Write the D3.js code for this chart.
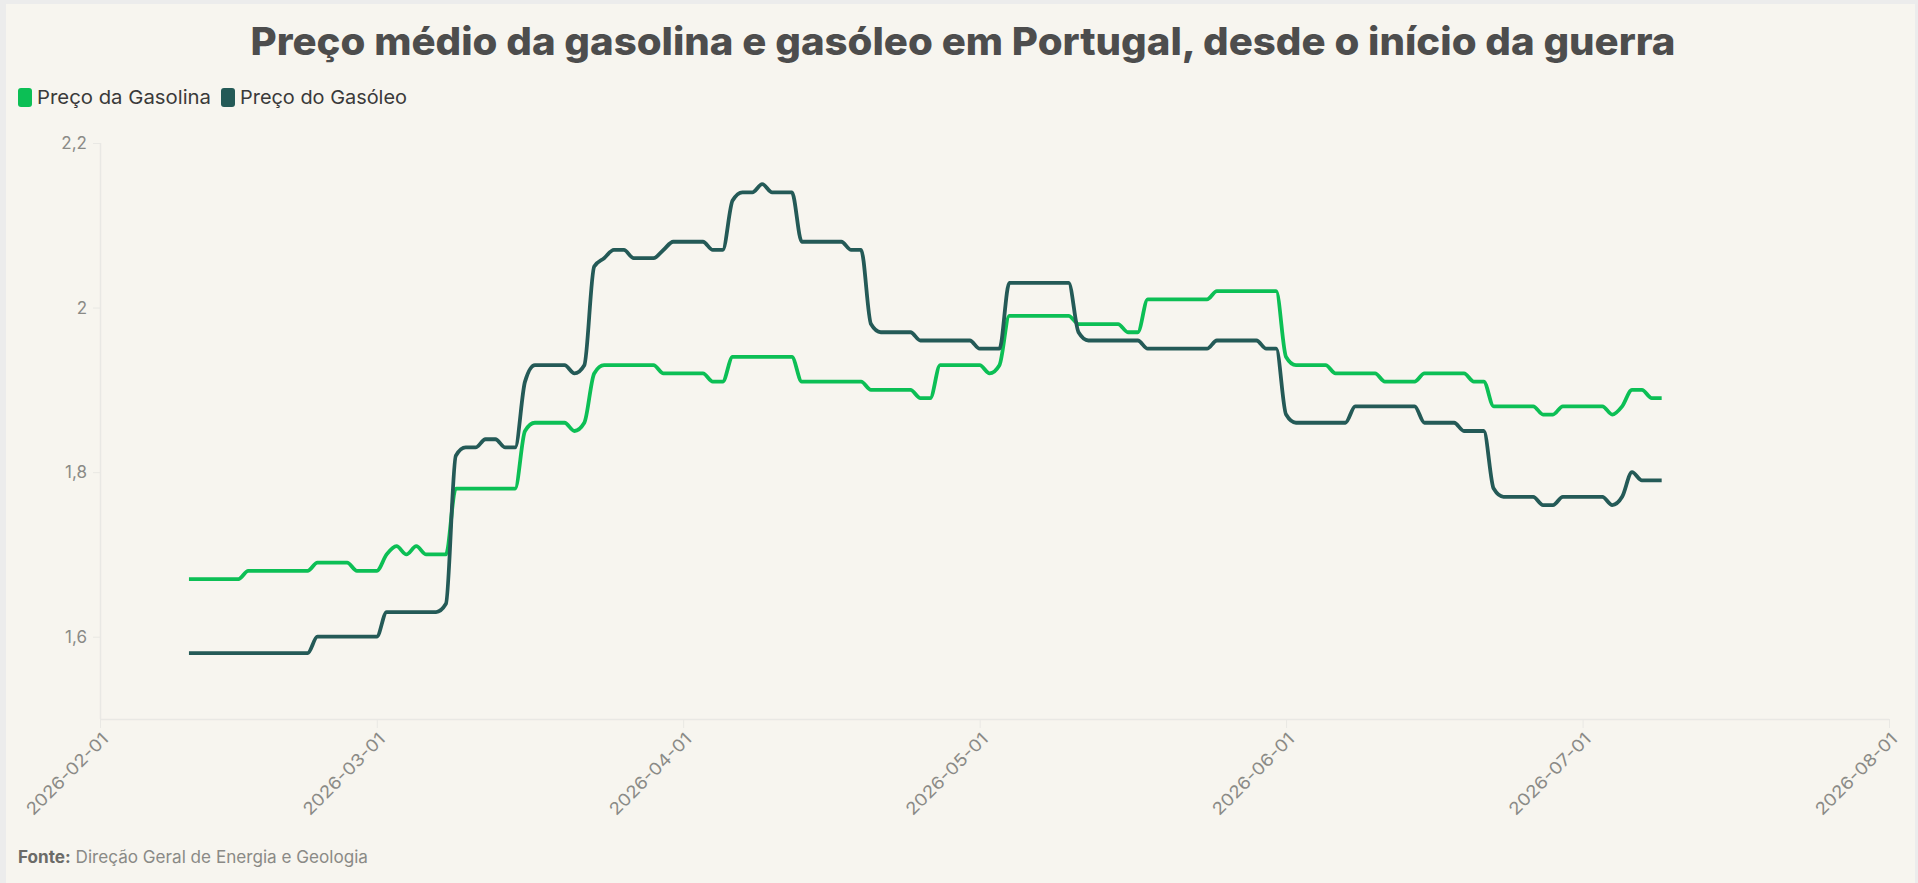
<!DOCTYPE html>
<html>
<head>
<meta charset="utf-8">
<script src="https://cdn.jsdelivr.net/npm/d3@7"></script>
<style>
  html, body { margin: 0; padding: 0; background: #ececec; }
  svg { display: block; }
  text { font-family: Inter, "Open Sans", sans-serif; }
</style>
</head>
<body>
<svg id="chart" width="1918" height="883"></svg>
<script>
// ---------- DATA ----------
const title = "Preço médio da gasolina e gasóleo em Portugal, desde o início da guerra";
const seriesNames = ["Preço da Gasolina", "Preço do Gasóleo"];
const seriesColors = ["#0cbf55", "#245a57"];
const firstDay = "2026-02-10";
const lastDay = "2026-07-09";
const xDomain = ["2026-02-01", "2026-08-01"];
const yDomain = [1.5, 2.2];
const yTicks = [1.6, 1.8, 2.0, 2.2];
const sourceLabel = "Fonte:";
const sourceText = " Direção Geral de Energia e Geologia";

// daily average price (EUR/l), from 2026-02-10 to 2026-07-09
const gasolina = [
  1.67,1.67,1.67,1.67,1.67,1.67,
  1.68,1.68,1.68,1.68,1.68,1.68,1.68,
  1.69,1.69,1.69,1.69,1.68,1.68,1.68,
  1.70,1.71,1.70,1.71,1.70,1.70,1.70,
  1.78,1.78,1.78,1.78,1.78,1.78,1.78,
  1.85,1.86,1.86,1.86,1.86,1.85,1.86,
  1.92,1.93,1.93,1.93,1.93,1.93,1.93,
  1.92,1.92,1.92,1.92,1.92,1.91,1.91,
  1.94,1.94,1.94,1.94,1.94,1.94,1.94,
  1.91,1.91,1.91,1.91,1.91,1.91,1.91,
  1.90,1.90,1.90,1.90,1.90,1.89,1.89,
  1.93,1.93,1.93,1.93,1.93,1.92,1.93,
  1.99,1.99,1.99,1.99,1.99,1.99,1.99,
  1.98,1.98,1.98,1.98,1.98,1.97,1.97,
  2.01,2.01,2.01,2.01,2.01,2.01,2.01,
  2.02,2.02,2.02,2.02,2.02,2.02,2.02,
  1.94,1.93,1.93,1.93,1.93,1.92,1.92,
  1.92,1.92,1.92,1.91,1.91,1.91,1.91,
  1.92,1.92,1.92,1.92,1.92,1.91,1.91,
  1.88,1.88,1.88,1.88,1.88,1.87,1.87,
  1.88,1.88,1.88,1.88,1.88,1.87,1.88,
  1.90,1.90,1.89,1.89
];
const gasoleo = [
  1.58,1.58,1.58,1.58,1.58,1.58,
  1.58,1.58,1.58,1.58,1.58,1.58,1.58,
  1.60,1.60,1.60,1.60,1.60,1.60,1.60,
  1.63,1.63,1.63,1.63,1.63,1.63,1.64,
  1.82,1.83,1.83,1.84,1.84,1.83,1.83,
  1.91,1.93,1.93,1.93,1.93,1.92,1.93,
  2.05,2.06,2.07,2.07,2.06,2.06,2.06,
  2.07,2.08,2.08,2.08,2.08,2.07,2.07,
  2.13,2.14,2.14,2.15,2.14,2.14,2.14,
  2.08,2.08,2.08,2.08,2.08,2.07,2.07,
  1.98,1.97,1.97,1.97,1.97,1.96,1.96,
  1.96,1.96,1.96,1.96,1.95,1.95,1.95,
  2.03,2.03,2.03,2.03,2.03,2.03,2.03,
  1.97,1.96,1.96,1.96,1.96,1.96,1.96,
  1.95,1.95,1.95,1.95,1.95,1.95,1.95,
  1.96,1.96,1.96,1.96,1.96,1.95,1.95,
  1.87,1.86,1.86,1.86,1.86,1.86,1.86,
  1.88,1.88,1.88,1.88,1.88,1.88,1.88,
  1.86,1.86,1.86,1.86,1.85,1.85,1.85,
  1.78,1.77,1.77,1.77,1.77,1.76,1.76,
  1.77,1.77,1.77,1.77,1.77,1.76,1.77,
  1.80,1.79,1.79,1.79
];

// ---------- CHART ----------
const W = 1918, H = 883;
const svg = d3.select("#chart");
const parse = d3.utcParse("%Y-%m-%d");
const dates = d3.utcDay.range(parse(firstDay), d3.utcDay.offset(parse(lastDay), 1));
const series = [gasolina, gasoleo].map((vals, k) => ({
  name: seriesNames[k], color: seriesColors[k],
  values: vals.map((v, i) => ({ date: dates[i], value: v }))
}));

const plot = { left: 100, right: 1889, top: 143, bottom: 719 };

// card background
svg.append("rect").attr("x", 6).attr("y", 4).attr("width", W - 9).attr("height", H - 4)
  .attr("fill", "#f7f5ef");

const x = d3.scaleUtc().domain(xDomain.map(parse)).range([plot.left, plot.right]);
const y = d3.scaleLinear().domain(yDomain).range([plot.bottom, plot.top]);

// title
svg.append("text")
  .attr("x", 963).attr("y", 55)
  .attr("text-anchor", "middle")
  .attr("font-size", 38).attr("font-weight", 800)
  .attr("fill", "#4d4d4d")
  .attr("textLength", 1425).attr("lengthAdjust", "spacingAndGlyphs")
  .text(title);

// legend
const legendPos = [{ x: 18, tx: 37, w: 174 }, { x: 221, tx: 240, w: 167 }];
series.forEach((s, k) => {
  svg.append("rect").attr("x", legendPos[k].x).attr("y", 88).attr("width", 14).attr("height", 19)
    .attr("rx", 3).attr("fill", s.color);
  svg.append("text").attr("x", legendPos[k].tx).attr("y", 104)
    .attr("font-size", 19).attr("fill", "#3a3a3a")
    .attr("textLength", legendPos[k].w).attr("lengthAdjust", "spacingAndGlyphs")
    .text(s.name);
});

// y axis
const fmt = v => d3.format("~g")(+v.toFixed(2)).replace(".", ",");
const yAxis = d3.axisLeft(y).tickValues(yTicks).tickSize(7).tickPadding(6).tickFormat(fmt);
const gy = svg.append("g").attr("transform", `translate(${plot.left},0)`).call(yAxis);
gy.select(".domain").attr("stroke", "#e9e8e4").attr("stroke-width", 1.5)
  .attr("d", `M0.5,${plot.top}V${plot.bottom}`);
gy.selectAll(".tick line").attr("stroke", "#e9e8e4");
gy.selectAll(".tick text").attr("font-size", 17).attr("fill", "#8a8a86")
  .attr("font-family", "Inter, sans-serif");

// x axis
const xAxis = d3.axisBottom(x).ticks(d3.utcMonth.every(1)).tickSize(9)
  .tickFormat(d3.utcFormat("%Y-%m-%d"));
const gx = svg.append("g").attr("transform", `translate(0,${plot.bottom})`).call(xAxis);
gx.select(".domain").attr("stroke", "#e9e8e4").attr("stroke-width", 1.5)
  .attr("d", `M${plot.left},0.5H${plot.right}`);
gx.selectAll(".tick line").attr("stroke", "#e9e8e4");
gx.selectAll(".tick text")
  .attr("font-size", 17).attr("fill", "#8a8a86").attr("font-family", "Inter, sans-serif")
  .attr("text-anchor", "end").attr("y", 0).attr("dy", 0)
  .attr("textLength", 108).attr("lengthAdjust", "spacingAndGlyphs")
  .attr("transform", "translate(9,21) rotate(-45)");

// lines
const line = d3.line().x(d => x(d.date)).y(d => y(d.value)).curve(d3.curveMonotoneX);
svg.append("g").selectAll("path").data(series).join("path")
  .attr("d", d => line(d.values))
  .attr("fill", "none").attr("stroke", d => d.color)
  .attr("stroke-width", 3.8).attr("stroke-linejoin", "round").attr("stroke-linecap", "butt");

// source
const src = svg.append("text").attr("x", 18).attr("y", 863).attr("font-size", 17)
  .attr("textLength", 350).attr("lengthAdjust", "spacingAndGlyphs");
src.append("tspan").attr("font-weight", 700).attr("fill", "#6b6b68").text(sourceLabel);
src.append("tspan").attr("fill", "#8a8a86").text(sourceText);
</script>
</body>
</html>
